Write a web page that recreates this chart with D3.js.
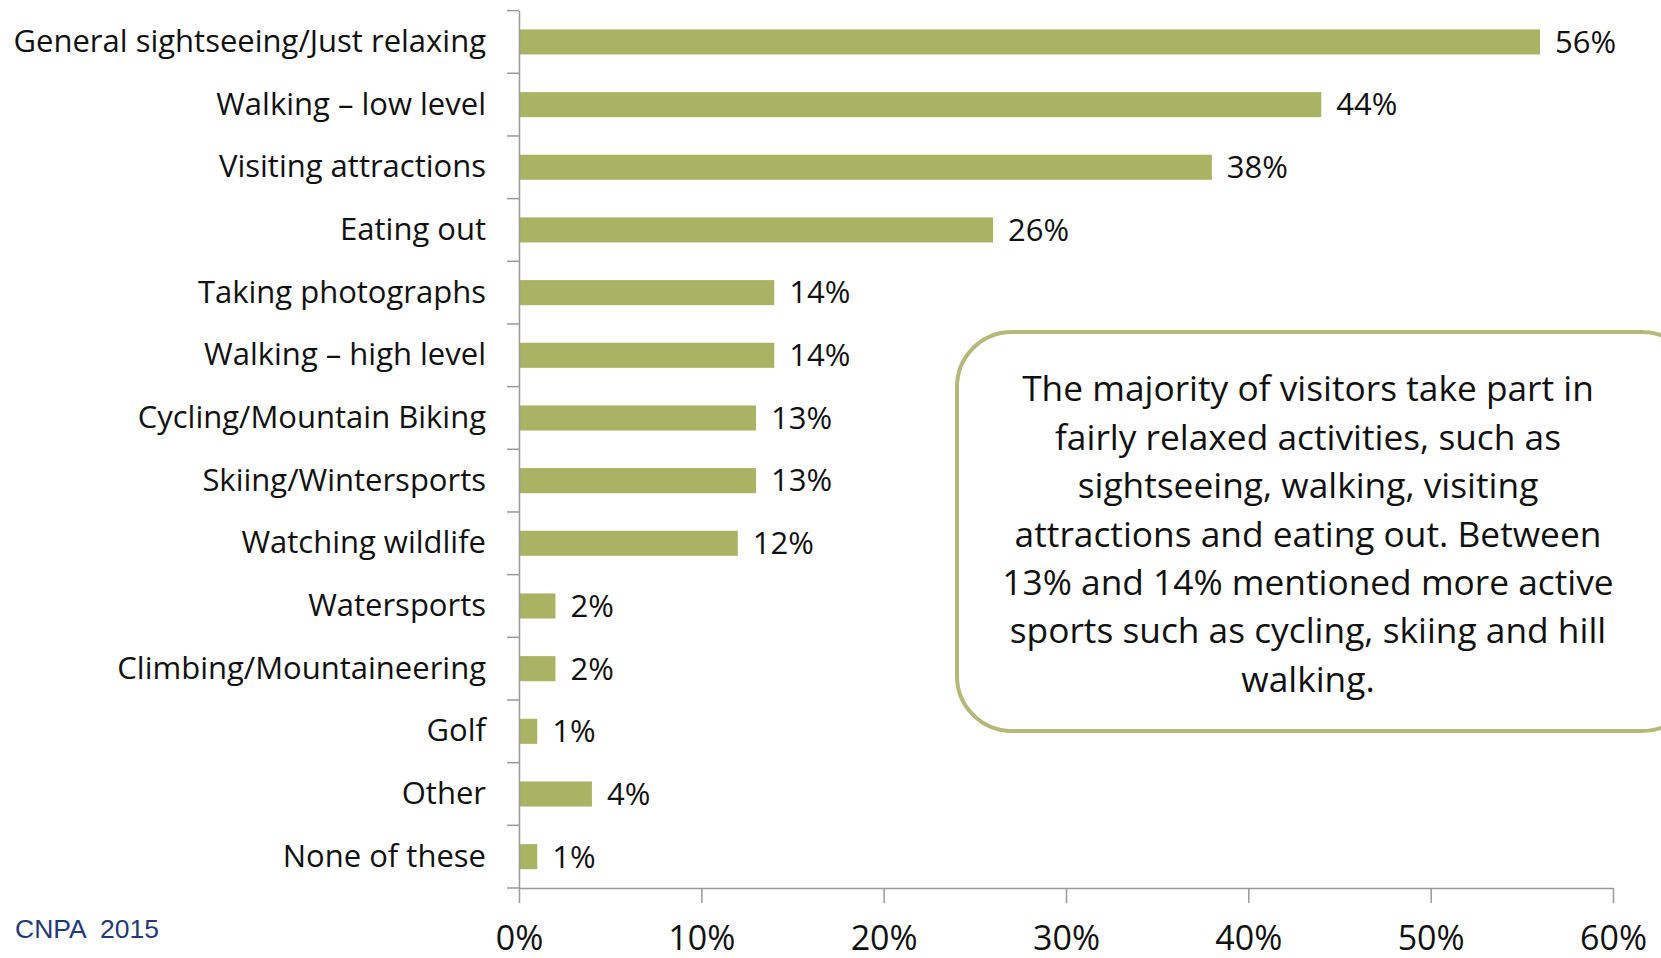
<!DOCTYPE html>
<html>
<head>
<meta charset="utf-8">
<script src="https://cdn.jsdelivr.net/npm/d3@7"></script>
<style>
  body { margin: 0; background: #fff; }
  svg { display: block; }
</style>
</head>
<body>
<script>
let categories = ['General sightseeing/Just relaxing', 'Walking \u2013 low level', 'Visiting attractions',
    'Eating out', 'Taking photographs', 'Walking \u2013 high level', 'Cycling/Mountain Biking',
    'Skiing/Wintersports', 'Watching wildlife', 'Watersports', 'Climbing/Mountaineering',
    'Golf', 'Other', 'None of these'];
let values = [56, 44, 38, 26, 14, 14, 13, 13, 12, 2, 2, 1, 4, 1];
let xTicks = [0, 10, 20, 30, 40, 50, 60];
let note = ['The majority of visitors take part in', 'fairly relaxed activities, such as',
    'sightseeing, walking, visiting', 'attractions and eating out. Between',
    '13% and 14% mentioned more active', 'sports such as cycling, skiing and hill', 'walking.'];
let source = 'CNPA  2015';

let w = 1661, h = 958;
let plotLeft = 519, plotRight = 1613, plotTop = 10.6, plotBottom = 888;
let font = '"Open Sans", Lato, sans-serif';

let svg = d3.select('body').append('svg')
    .attr('width', w)
    .attr('height', h);

let x = d3.scaleLinear().domain([0, 60]).range([plotLeft, plotRight]);
let y = d3.scaleBand().domain(categories).range([plotTop, plotBottom]).paddingInner(0.6).paddingOuter(0.3);
let yb = d3.scaleBand().domain(categories).range([plotTop, plotBottom]);

// bars
svg.selectAll('rect.bar')
    .data(values)
    .enter()
    .append('rect')
    .attr('class', 'bar')
    .attr('x', x(0))
    .attr('y', (d, i) => y(categories[i]))
    .attr('width', d => x(d) - x(0))
    .attr('height', y.bandwidth())
    .attr('fill', '#aab264');

// value labels
svg.selectAll('text.val')
    .data(values)
    .enter()
    .append('text')
    .attr('class', 'val')
    .attr('x', d => x(d) + 15)
    .attr('y', (d, i) => y(categories[i]) + y.bandwidth() / 2)
    .attr('dy', '0.35em')
    .style('font-family', font)
    .style('font-size', '31px')
    .attr('fill', '#111')
    .text(d => d + '%');

// y axis
let yAxis = svg.append('g')
    .attr('transform', `translate(${plotLeft},0)`)
    .call(d3.axisLeft(yb).tickSize(0).tickPadding(33));
yAxis.select('.domain').attr('stroke', '#999').attr('stroke-width', 1.5);
yAxis.selectAll('text')
    .style('font-family', font)
    .style('font-size', '31px')
    .attr('fill', '#111');
// category boundary ticks
svg.selectAll('line.ytick')
    .data(d3.range(categories.length + 1))
    .enter()
    .append('line')
    .attr('class', 'ytick')
    .attr('x1', plotLeft - 12)
    .attr('x2', plotLeft)
    .attr('y1', i => plotTop + i * yb.step())
    .attr('y2', i => plotTop + i * yb.step())
    .attr('stroke', '#999')
    .attr('stroke-width', 1.5);

// x axis
let xAxis = svg.append('g')
    .attr('transform', `translate(0,${plotBottom})`)
    .call(d3.axisBottom(x).tickValues(xTicks).tickFormat(d => d + '%').tickSize(15).tickSizeOuter(0).tickPadding(23));
xAxis.select('.domain').attr('stroke', '#999').attr('stroke-width', 1.5);
xAxis.selectAll('line').attr('stroke', '#999').attr('stroke-width', 1.5);
xAxis.selectAll('text')
    .style('font-family', font)
    .style('font-size', '34px')
    .attr('fill', '#111');

// note box
svg.append('rect')
    .attr('x', 957)
    .attr('y', 332)
    .attr('width', 740)
    .attr('height', 399)
    .attr('rx', 55)
    .attr('fill', '#fff')
    .attr('stroke', '#b5b879')
    .attr('stroke-width', 4);

svg.append('g').selectAll('text')
    .data(note)
    .enter()
    .append('text')
    .attr('x', 1308)
    .attr('y', (d, i) => 389 + i * 48.4)
    .attr('dy', '0.35em')
    .attr('text-anchor', 'middle')
    .style('font-family', font)
    .style('font-size', '35.3px')
    .attr('fill', '#111')
    .text(d => d);

// source
svg.append('text')
    .attr('x', 15)
    .attr('y', 929)
    .attr('dy', '0.35em')
    .style('font-family', '"Liberation Sans", Arial, sans-serif')
    .style('font-size', '26.5px')
    .style('white-space', 'pre')
    .attr('fill', '#1f3a78')
    .text(source);
</script>
</body>
</html>
